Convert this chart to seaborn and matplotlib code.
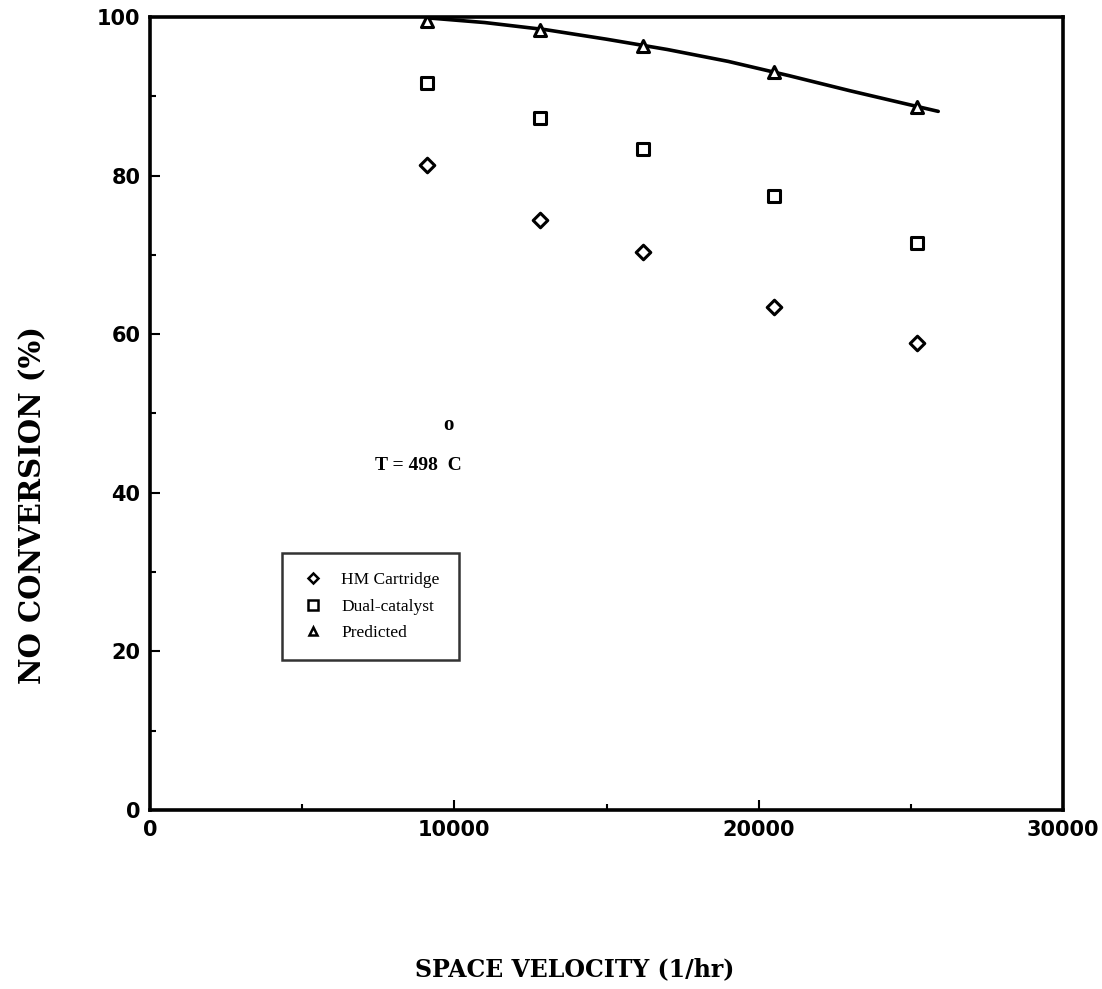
import matplotlib
matplotlib.use("Agg")
import matplotlib.pyplot as plt
import seaborn as sns
import pandas as pd
from matplotlib.lines import Line2D
from matplotlib.ticker import MultipleLocator

# ---- data ----
space_velocity = [9100, 12800, 16200, 20500, 25200]
hm_cartridge = [81.3, 74.4, 70.4, 63.4, 58.9]
dual_catalyst = [91.7, 87.3, 83.4, 77.4, 71.5]
predicted = [99.5, 98.4, 96.3, 93.1, 88.7]

curve_x = [9100, 11000, 13000, 15000, 17000, 19000, 21000, 23000, 25000, 25900]
curve_y = [99.9, 99.3, 98.4, 97.2, 95.9, 94.4, 92.6, 90.7, 88.9, 88.1]

x_ticks = [0, 10000, 20000, 30000]
y_ticks = [0, 20, 40, 60, 80, 100]

sns.set_theme(style="white")
plt.rcParams['font.family'] = ['Liberation Serif', 'DejaVu Serif']
plt.rcParams['text.color'] = 'black'
plt.rcParams['axes.labelcolor'] = 'black'
plt.rcParams['xtick.color'] = 'black'
plt.rcParams['ytick.color'] = 'black'

fig = plt.figure(figsize=(11.02, 9.89), dpi=100)
ax = fig.add_axes([150/1102, 1-810/989, (1063-150)/1102, (810-17)/989])

df_curve = pd.DataFrame({"x": curve_x, "y": curve_y})
sns.lineplot(data=df_curve, x="x", y="y", ax=ax, color="black", lw=2.6, sort=False)

common = dict(facecolor="white", edgecolor="black", linewidth=2.2, ax=ax, zorder=5)
sns.scatterplot(x=space_velocity, y=hm_cartridge, marker="D", s=55, **common)
sns.scatterplot(x=space_velocity, y=dual_catalyst, marker="s", s=85, **common)
sns.scatterplot(x=space_velocity, y=predicted, marker="^", s=75, **common)

ax.set_xlim(0, 30000)
ax.set_ylim(0, 100)
ax.set_xticks(x_ticks)
ax.set_yticks(y_ticks)
ax.xaxis.set_minor_locator(MultipleLocator(5000))
ax.yaxis.set_minor_locator(MultipleLocator(10))
ax.set_xticklabels([str(v) for v in x_ticks], fontfamily="DejaVu Sans",
                   fontweight="bold", fontsize=15)
ax.set_yticklabels([str(v) for v in y_ticks], fontfamily="DejaVu Sans",
                   fontweight="bold", fontsize=15)
ax.tick_params(axis="both", which="major", direction="in", length=7, width=1.5,
               bottom=True, left=True, top=False, right=False, pad=7, colors="black")
ax.tick_params(axis="both", which="minor", direction="in", length=4, width=1.5,
               bottom=True, left=True, top=False, right=False)
for sp in ax.spines.values():
    sp.set_visible(True)
    sp.set_color("black")
    sp.set_linewidth(2.6)

ax.set_xlabel("SPACE VELOCITY (1/hr)", fontsize=17, fontweight="bold",
              fontfamily="DejaVu Serif", color="black")
ax.set_ylabel("NO CONVERSION (%)", fontsize=21, fontweight="bold",
              fontfamily="DejaVu Serif", color="black")
ax.xaxis.set_label_coords(0.465, -0.185)
ax.yaxis.set_label_coords(-0.112, 0.385)

ax.text(7400, 43.5, "T = 498  C", fontsize=14, fontweight="bold", va="center",
        ha="left", color="black")
ax.text(9790, 48.6, "o", fontsize=15, fontweight="bold", va="center", ha="center",
        color="black")

handles = [
    Line2D([], [], marker="D", ls="none", mfc="white", mec="black", mew=1.8, ms=5),
    Line2D([], [], marker="s", ls="none", mfc="white", mec="black", mew=1.8, ms=7),
    Line2D([], [], marker="^", ls="none", mfc="white", mec="black", mew=1.8, ms=6),
]
leg = ax.legend(handles, ["HM Cartridge", "Dual-catalyst", "Predicted"],
                loc="upper left", bbox_to_anchor=((282-150)/913, 1-(553-17)/793),
                borderaxespad=0,
                frameon=True, fancybox=False, edgecolor="black", fontsize=12.5,
                handletextpad=0.9, borderpad=1.1, labelspacing=0.6, handlelength=1.4)
leg.get_frame().set_linewidth(1.8)
for t in leg.get_texts():
    t.set_color("black")

fig.savefig("out.png", dpi=100, facecolor="white")
